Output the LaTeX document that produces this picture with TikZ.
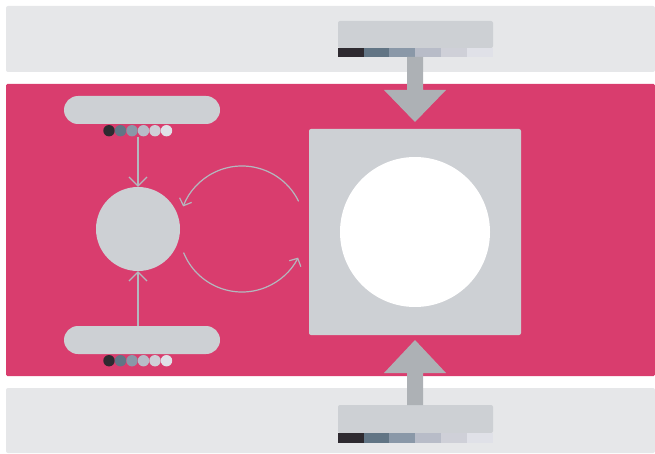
\documentclass[tikz,border=0pt]{standalone}
\usetikzlibrary{arrows.meta}
\definecolor{pinkbg}{RGB}{217,61,110}
\definecolor{bandgray}{RGB}{230,231,233}
\definecolor{boxgray}{RGB}{205,208,212}
\definecolor{arrgray}{RGB}{173,177,181}
\definecolor{linegray}{RGB}{180,184,190}
\definecolor{cA}{RGB}{46,42,48}
\definecolor{cB}{RGB}{98,117,133}
\definecolor{cC}{RGB}{138,152,168}
\definecolor{cD}{RGB}{184,188,200}
\definecolor{cE}{RGB}{207,208,216}
\definecolor{cF}{RGB}{224,225,232}
\tikzset{
  band/.style={fill=bandgray, draw=none, rounded corners=2pt},
  pill/.style={fill=boxgray, draw=none, rounded corners=14pt},
  thinarrow/.style={draw=linegray, line width=1.2pt, -{Straight Barb[length=9pt,width=18pt,line width=1.2pt]}},
  cyclearrow/.style={draw=linegray, line width=1.2pt, -{Straight Barb[length=6pt,width=13pt,line width=1.2pt]}},
  bigarrow/.style={fill=arrgray, draw=none},
  dot/.style={circle, inner sep=0pt, minimum size=11.4pt, draw=none}
}
\begin{document}
\begin{tikzpicture}[x=1pt,y=1pt]
\useasboundingbox (0,0) rectangle (655,453);
% bands
\fill[band] (6,381) rectangle (655,447);
\fill[pinkbg, rounded corners=1.5pt] (6,77) rectangle (655,369);
\fill[band] (6,0) rectangle (655,65);
% top source box
\fill[boxgray, rounded corners=2pt] (338,405) rectangle (493,432);
\fill[cA] (338,395.5) rectangle (364,405);
\fill[cB] (364,395.5) rectangle (389,405);
\fill[cC] (389,395.5) rectangle (415,405);
\fill[cD] (415,395.5) rectangle (441,405);
\fill[cE] (441,395.5) rectangle (467,405);
\fill[cF] (467,395.5) rectangle (493,405);
\node[inner sep=0pt, minimum width=155pt, minimum height=37pt] (topbox) at (415.5,413.5) {};
% bottom source box
\fill[boxgray, rounded corners=2pt] (338,20) rectangle (493,48);
\fill[cA] (338,10) rectangle (364,20);
\fill[cB] (364,10) rectangle (389,20);
\fill[cC] (389,10) rectangle (415,20);
\fill[cD] (415,10) rectangle (441,20);
\fill[cE] (441,10) rectangle (467,20);
\fill[cF] (467,10) rectangle (493,20);
\node[inner sep=0pt, minimum width=155pt, minimum height=38pt] (botbox) at (415.5,29) {};
% big square with white circle
\node[fill=boxgray, rounded corners=2pt, minimum width=212pt, minimum height=206pt, inner sep=0pt] (sq) at (415,221) {};
\node[circle, fill=white, minimum size=150pt, inner sep=0pt] (wc) at (415,221) {};
% big arrows
\fill[bigarrow] (407,396) -- (423,396) -- (423,363) -- (446,363) -- (415,331) -- (384,363) -- (407,363) -- cycle;
\fill[bigarrow] (407,48) -- (423,48) -- (423,80) -- (446,80) -- (415,113) -- (384,80) -- (407,80) -- cycle;
% pills
\node[pill, minimum width=156pt, minimum height=28pt, inner sep=0pt] (ptop) at (142,343) {};
\node[pill, minimum width=156pt, minimum height=28pt, inner sep=0pt] (pbot) at (142,113) {};
% dots top
\node[dot, fill=cA] (ta) at (109,322.3) {};
\node[dot, fill=cB] (tb) at (120.5,322.3) {};
\node[dot, fill=cC] (tc) at (132,322.3) {};
\node[dot, fill=cD] (td) at (143.5,322.3) {};
\node[dot, fill=cE] (te) at (155,322.3) {};
\node[dot, fill=cF] (tf) at (166.5,322.3) {};
% dots bottom
\node[dot, fill=cA] (ba) at (109,92.3) {};
\node[dot, fill=cB] (bb) at (120.5,92.3) {};
\node[dot, fill=cC] (bc) at (132,92.3) {};
\node[dot, fill=cD] (bd) at (143.5,92.3) {};
\node[dot, fill=cE] (be) at (155,92.3) {};
\node[dot, fill=cF] (bf) at (166.5,92.3) {};
% small circle
\node[circle, fill=boxgray, minimum size=84pt, inner sep=0pt] (sc) at (138,224) {};
% thin arrows
\coordinate (tstart) at (138,316);
\coordinate (bstart) at (138,127);
\draw[thinarrow] (tstart) -- (sc.north);
\draw[thinarrow] (bstart) -- (sc.south);
% cycle arrows
\coordinate (cc) at (242,224);
\draw[cyclearrow] ([shift={(26:63pt)}]cc) arc[start angle=26, end angle=159, radius=63pt];
\draw[cyclearrow] ([shift={(202:63pt)}]cc) arc[start angle=202, end angle=333, radius=63pt];
\end{tikzpicture}
\end{document}
